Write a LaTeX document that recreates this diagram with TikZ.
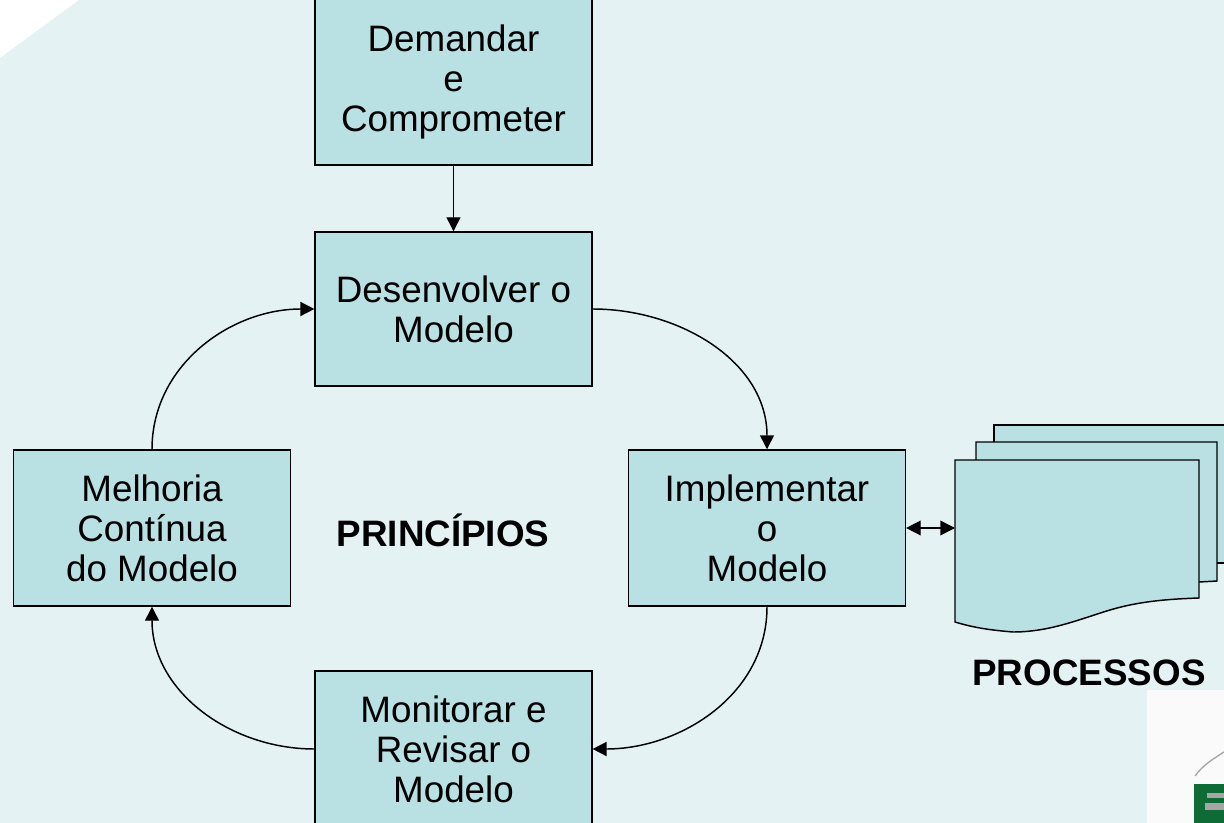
\documentclass[tikz,border=0pt]{standalone}
\usepackage{fontspec}
\setmainfont{Liberation Sans}
\usetikzlibrary{arrows.meta}
\definecolor{bgc}{HTML}{E4F2F4}
\definecolor{boxc}{HTML}{B9E0E3}
\definecolor{logog}{HTML}{0F6B35}
\tikzset{
  x=0.75pt,y=-0.75pt,
  stepbox/.style={draw=black,fill=boxc,line width=1.1pt,minimum width=207.5pt,align=center,font=\fontsize{27.6}{30}\selectfont,inner sep=0pt},
  sheet/.style={draw=black,fill=boxc,line width=1.1pt,line join=miter},
  conn/.style={draw=black,line width=1.1pt,-{Triangle[length=10.5pt,width=10.5pt]}},
  biconn/.style={draw=black,line width=1.1pt,{Triangle[length=11pt,width=11pt]}-{Triangle[length=11pt,width=11pt]}},
  heading/.style={font=\fontsize{27.6}{30}\selectfont\bfseries,inner sep=0pt},
}
\begin{document}
\begin{tikzpicture}
\useasboundingbox (0,0) rectangle (1224,823);
\fill[bgc] (79,0) -- (1224,0) -- (1224,823) -- (0,823) -- (0,58) -- cycle;
\begin{scope}
\clip (0,0) rectangle (1224,823);
\node[stepbox,minimum height=124.5pt] (dem) at (453.5,82) {Demandar\\e\\Comprometer};
\node[stepbox,minimum height=115.5pt] (des) at (453.5,309) {Desenvolver o\\Modelo};
\node[stepbox,minimum height=117pt] (imp) at (767,528) {Implementar\\o\\Modelo};
\node[stepbox,minimum height=117pt] (mel) at (152,528) {Melhoria\\Contínua\\do Modelo};
\node[stepbox,minimum height=117pt] (mon) at (453.5,749) {Monitorar e\\Revisar o\\Modelo};
\draw[sheet] (994,563) -- (994,425) -- (1240,425) -- (1240,563) -- cycle;
\draw[sheet] (976,442) -- (1217,442) -- (1217,581) -- (1199,582) -- (976,582) -- cycle;
\draw[sheet] (955,622) -- (955,460) -- (1199,460) -- (1199,598)
  .. controls (1170,599) and (1140,601) .. (1110,610)
  .. controls (1080,619) and (1050,632) .. (1013,632)
  .. controls (990,630) and (975,628) .. (955,622) -- cycle;
\coordinate (docw) at (955,528);
\end{scope}
\draw[conn] (dem.south) -- (des.north);
\draw[conn] (des.east) to[out=0,in=90] (imp.north);
\draw[conn] (imp.south) to[out=-90,in=0] (mon.east);
\draw[conn] (mon.west) to[out=180,in=-90] (mel.south);
\draw[conn] (mel.north) to[out=90,in=180] (des.west);
\draw[biconn] (imp.east) -- (docw);
\node[heading] (pri) at (443,530) {PRINCÍPIOS};
\node[heading] (pro) at (1089,673) {PROCESSOS};
\begin{scope}
\clip (0,0) rectangle (1224,823);
\fill[white!98!black] (1147,690) rectangle (1224,823);
\fill[logog] (1194,784) rectangle (1224,823);
\fill[gray!70] (1205,803) rectangle (1224,810);
\fill[gray!70] (1207,793) rectangle (1224,798);
\draw[gray!70,line width=1pt] (1195,776) .. controls (1203,765) and (1213,759) .. (1224,752);
\end{scope}
\end{tikzpicture}
\end{document}
